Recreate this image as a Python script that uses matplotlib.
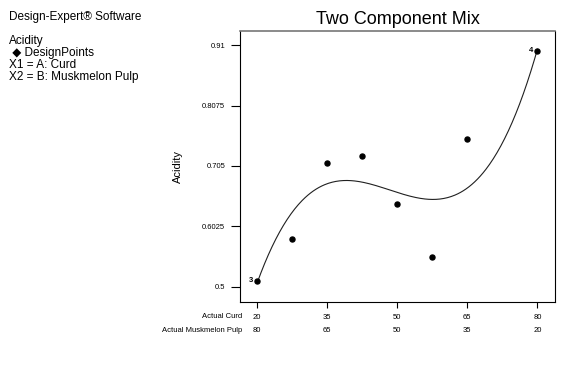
import matplotlib.pyplot as plt
import matplotlib.transforms as mtransforms
import numpy as np

plt.rcParams['font.family'] = ['Liberation Sans', 'DejaVu Sans']

# design points (Actual Curd vs Acidity), with replicate counts
curd = [20, 27.5, 35, 42.5, 50, 57.5, 65, 80]
acidity = [0.510, 0.581, 0.710, 0.721, 0.641, 0.551, 0.751, 0.900]
replicates = [3, 1, 1, 1, 1, 1, 1, 4]

tick_curd = [20, 35, 50, 65, 80]
tick_pulp = [80, 65, 50, 35, 20]
yticks = [0.5, 0.6025, 0.705, 0.8075, 0.91]
ytick_labels = ["0.5", "0.6025", "0.705", "0.8075", "0.91"]

# cubic mixture model fitted to the runs
coef = np.polyfit(curd, acidity, 3, w=np.sqrt(replicates))
xs = np.linspace(20, 80, 300)
ys = np.polyval(coef, xs)

fig = plt.figure(figsize=(5.85, 3.83), dpi=100)
ax = fig.add_axes([0.410, 0.2115, 0.539, 0.7075])

ax.plot(xs, ys, color="#202020", lw=0.8)
ax.plot(curd, acidity, "o", color="black", ms=3.6)

for x, y, n in zip(curd, acidity, replicates):
    if n > 1:
        ax.annotate(str(n), (x, y), xytext=(-3, 0.5), textcoords="offset points",
                    ha="right", va="center", fontsize=5.5, fontweight="bold")

ax.set_xlim(16.3, 83.8)
ax.set_ylim(0.474, 0.934)
ax.set_yticks(yticks)
ax.set_yticklabels(ytick_labels, fontsize=5.5)
ax.set_xticks(tick_curd)
ax.set_xticklabels([str(v) for v in tick_curd], fontsize=5.5)
ax.tick_params(axis="y", length=6.5, width=0.8, pad=4)
ax.tick_params(axis="x", length=4, width=0.8, pad=5)
for s in ax.spines.values():
    s.set_linewidth(0.8)
ax.spines["top"].set_color("#777777")
ax.spines["top"].set_linewidth(1.2)

ax.set_ylabel("Acidity", fontsize=8, labelpad=14)
ax.set_title("Two Component Mix", fontsize=13, pad=5)

# second row of x labels
trans = mtransforms.blended_transform_factory(ax.transData, fig.transFigure)
for x, p in zip(tick_curd, tick_pulp):
    ax.text(x, 1 - 331 / 383, str(p), transform=trans, fontsize=5.5,
            ha="center", va="center")
fig.text(242 / 585, 1 - 316 / 383, "Actual Curd", fontsize=5.5, ha="right", va="center")
fig.text(242 / 585, 1 - 331 / 383, "Actual Muskmelon Pulp", fontsize=5.5, ha="right", va="center")

# legend block
fig.text(9 / 585, 1 - 17 / 383, "Design-Expert\u00ae Software", fontsize=8.5, va="center")
fig.text(9 / 585, 1 - 41 / 383, "Acidity", fontsize=8.5, va="center")
fig.text(9 / 585, 1 - 53 / 383, " \u25c6 DesignPoints", fontsize=8.5, va="center")
fig.text(9 / 585, 1 - 65 / 383, "X1 = A: Curd", fontsize=8.5, va="center")
fig.text(9 / 585, 1 - 77 / 383, "X2 = B: Muskmelon Pulp", fontsize=8.5, va="center")

fig.savefig("out.png", dpi=100)
